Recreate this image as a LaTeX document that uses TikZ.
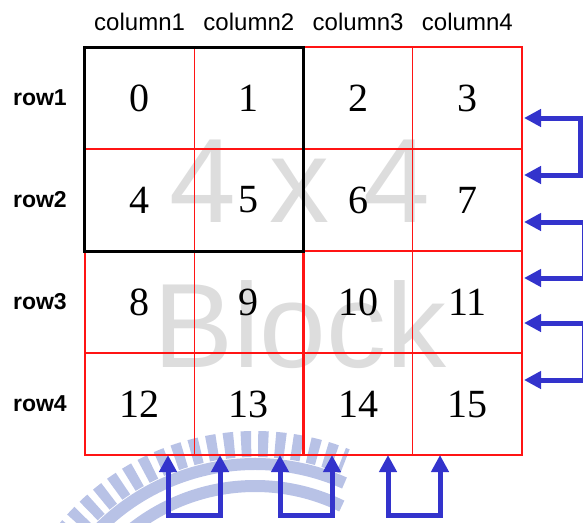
\documentclass[tikz,border=0pt]{standalone}
\usepackage{fontspec}
\setmainfont{Liberation Serif}
\newfontfamily\labelfont{Liberation Sans}
\usepackage{tikz}
\usetikzlibrary{arrows.meta,positioning}
\definecolor{gridred}{RGB}{255,20,20}
\definecolor{arrowblue}{RGB}{51,51,204}
\definecolor{markgray}{RGB}{221,221,221}
\definecolor{logoblue}{RGB}{184,194,230}
\tikzset{
  cellbox/.style={
    minimum width=109.25pt,
    minimum height=102pt,
    inner sep=0pt,
    outer sep=0pt,
    font=\fontsize{40}{40}\selectfont
  },
  gridline/.style={
    draw=gridred,
    line width=1.3pt
  },
  collabel/.style={
    inner sep=0pt,
    font=\labelfont\fontsize{24}{24}\selectfont
  },
  rowlabel/.style={
    inner sep=0pt,
    font=\labelfont\bfseries\fontsize{23}{23}\selectfont
  },
  watermark/.style={
    inner sep=0pt,
    anchor=base,
    text=markgray,
    font=\labelfont\fontsize{120}{120}\selectfont
  },
  blockframe/.style={
    draw=black,
    line width=3pt
  },
  looparrow/.style={
    {Triangle[length=17pt,width=17pt]}-{Triangle[length=17pt,width=17pt]},
    draw=arrowblue,
    line width=5pt
  },
  logoteeth/.style={
    draw=logoblue,
    line width=26pt,
    dash pattern=on 10pt off 7pt
  },
  logoband/.style={
    draw=logoblue,
    line width=12pt
  }
}

\begin{document}
\begin{tikzpicture}[x=1pt,y=-1pt]
  \useasboundingbox (0,0) rectangle (583,522);
  % pale logo behind the grid
  \draw[logoteeth] ([shift={(142:240pt)}]255,684) arc[start angle=142,end angle=68,radius=240pt];
  \draw[logoband] ([shift={(142:220pt)}]255,684) arc[start angle=142,end angle=66,radius=220pt];
  \draw[logoband] ([shift={(140:198pt)}]255,684) arc[start angle=140,end angle=64,radius=198pt];
  \node[watermark] (mark1) at (300,222) {4 x 4};
  \node[watermark] (mark2) at (300,367) {Block};

  \node[cellbox] (c0) at (139.6,98) {0};
  \node[cellbox, right=0pt of c0] (c1) {1};
  \node[cellbox, right=0pt of c1] (c2) {2};
  \node[cellbox, right=0pt of c2] (c3) {3};
  \node[cellbox, below=0pt of c0] (c4) {4};
  \node[cellbox, right=0pt of c4] (c5) {5};
  \node[cellbox, right=0pt of c5] (c6) {6};
  \node[cellbox, right=0pt of c6] (c7) {7};
  \node[cellbox, below=0pt of c4] (c8) {8};
  \node[cellbox, right=0pt of c8] (c9) {9};
  \node[cellbox, right=0pt of c9] (c10) {10};
  \node[cellbox, right=0pt of c10] (c11) {11};
  \node[cellbox, below=0pt of c8] (c12) {12};
  \node[cellbox, right=0pt of c12] (c13) {13};
  \node[cellbox, right=0pt of c13] (c14) {14};
  \node[cellbox, right=0pt of c14] (c15) {15};
  % red grid
  \draw[gridline] (c0.north west) rectangle (c15.south east);
  \draw[gridline] (c0.north east) -- (c12.south east);
  \draw[gridline] (c1.north east) -- (c13.south east);
  \draw[gridline] (c2.north east) -- (c14.south east);
  \draw[gridline] (c0.south west) -- (c3.south east);
  \draw[gridline] (c4.south west) -- (c7.south east);
  \draw[gridline] (c8.south west) -- (c11.south east);
  \draw[gridline, line width=2.4pt] (c9.north east) -- (c13.south east);
  \draw[blockframe] (c0.north west) rectangle (c5.south east);

  \node[collabel, above=16pt of c0] (col1) {column1};
  \node[collabel, above=16pt of c1] (col2) {column2};
  \node[collabel, above=16pt of c2] (col3) {column3};
  \node[collabel, above=16pt of c3] (col4) {column4};
  \node[rowlabel, left=18pt of c0] (row1) {row1};
  \node[rowlabel, left=18pt of c4] (row2) {row2};
  \node[rowlabel, left=18pt of c8] (row3) {row3};
  \node[rowlabel, left=18pt of c12] (row4) {row4};

  % swap arrows on the right
  \coordinate (ra1) at (524,118);
  \coordinate (ra2) at (524,175);
  \coordinate (rk1) at (580,146);
  \coordinate (ra3) at (524,222);
  \coordinate (ra4) at (524,278);
  \coordinate (rk2) at (584,250);
  \coordinate (ra5) at (524,323);
  \coordinate (ra6) at (524,380);
  \coordinate (rk3) at (584,351);
  \draw[looparrow] (ra1) -| (rk1) |- (ra2);
  \draw[looparrow] (ra3) -| (rk2) |- (ra4);
  \draw[looparrow] (ra5) -| (rk3) |- (ra6);

  % swap arrows below
  \coordinate (ba1) at (168,455);
  \coordinate (ba2) at (220,455);
  \coordinate (bk1) at (194,515);
  \coordinate (ba3) at (280,455);
  \coordinate (ba4) at (332,455);
  \coordinate (bk2) at (306,515);
  \coordinate (ba5) at (388,455);
  \coordinate (ba6) at (440,455);
  \coordinate (bk3) at (414,515);
  \draw[looparrow] (ba1) |- (bk1) -| (ba2);
  \draw[looparrow] (ba3) |- (bk2) -| (ba4);
  \draw[looparrow] (ba5) |- (bk3) -| (ba6);
\end{tikzpicture}
\end{document}
